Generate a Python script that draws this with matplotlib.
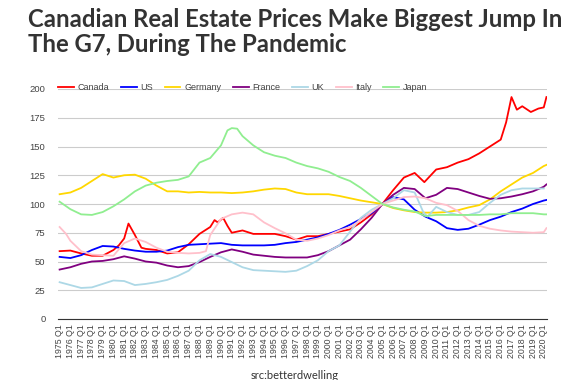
import matplotlib.pyplot as plt

# values (index, 2005 Q1 = 100)
years = list(range(1975, 2021))
tick_labels = [f"{y} Q1" for y in years]

canada_t = [1975, 1976, 1977, 1978, 1979, 1980, 1980.5, 1981, 1981.4, 1982, 1982.6, 1983, 1984, 1985,
            1986, 1987, 1988, 1989, 1989.4, 1989.7, 1990.2, 1990.6, 1991, 1992, 1993, 1994, 1995, 1996,
            1997, 1998, 1999, 2000, 2001, 2002, 2003, 2004, 2005, 2006, 2007, 2008, 2008.9, 2010,
            2011, 2012, 2013, 2014, 2015, 2016, 2016.5, 2017, 2017.5, 2018, 2018.8, 2019.5, 2020, 2020.25]
canada_v = [59, 59.5, 57, 55, 55, 60, 64, 70, 83, 73, 62, 61, 60, 57,
            58, 65, 74, 80, 86, 84, 88, 81, 75, 77, 74, 74, 74, 72,
            69, 72, 72, 74, 76, 78, 84, 91, 100, 112, 123, 127, 119, 130,
            132, 136, 139, 144, 150, 156, 171, 193, 182, 185, 180, 183, 184, 193]

us_t = years + [2020.25]
us_v = [54, 53, 55.5, 60, 63.5, 63, 61, 59.5, 58.5, 58.5, 59.5, 62.5, 64.5, 65, 65.5, 66,
        64.5, 64, 64, 64, 64.5, 66, 67, 69, 71, 74, 77.5, 82, 87, 92, 100, 106, 104, 95,
        89, 85, 79, 77.5, 78.5, 82, 86, 89, 93, 96, 100, 103, 103.5]

germany_t = years + [2020.25]
germany_v = [108.5, 110, 114, 120, 126, 123, 125, 125.5, 122, 116, 111, 111, 110, 110.5, 110, 110,
             109.5, 110, 111, 112.5, 113.5, 113, 110, 108.5, 108.5, 108.5, 107, 105, 103, 101.5, 100,
             96.5, 94.5, 93, 92.5, 92.5, 93, 94.5, 97, 99, 104, 111, 117, 123, 127, 133, 134]

france_t = years + [2020.25]
france_v = [43, 45, 48, 50, 50.5, 52, 54.5, 52.5, 50, 49, 46.5, 45, 46, 49.5, 54, 58,
            60.5, 58.5, 56, 55, 54, 53.5, 53.5, 53.5, 55.5, 59, 64, 69, 78, 88, 100, 108, 114, 113,
            105, 108, 114, 113, 110, 107, 104.5, 105, 106.5, 108.5, 111, 115, 117]

uk_t = list(range(1975, 2009)) + [2008.8, 2009.2] + list(range(2010, 2021))
uk_v = [32, 29.5, 27, 27.5, 30.5, 33.5, 33, 29.5, 30.5, 32, 34, 37.5, 42, 51, 56.5, 54,
        49.5, 45, 42.5, 42, 41.5, 41, 42, 46, 51, 59, 64, 76, 88, 95, 100, 105, 112, 110,
        93, 89, 97.5, 93, 90.5, 90.5, 93, 101, 108, 112, 113.5, 113.5, 113.5]

italy_t = [1975, 1975.6, 1976, 1977, 1978, 1979, 1980, 1981, 1982, 1983, 1984, 1985, 1986, 1987,
           1988, 1988.6, 1989, 1990, 1991, 1992, 1993, 1994, 1995, 1996, 1997, 1998, 1999, 2000,
           2001, 2002, 2003, 2004, 2005, 2006, 2007, 2008, 2009, 2010, 2011, 2012, 2013, 2014,
           2015, 2016, 2017, 2018, 2019, 2020, 2020.25]
italy_v = [80, 74, 68, 59, 56, 55.5, 55, 66, 70, 67, 62, 58.5, 57.5, 57,
           57.5, 59, 73, 87, 91, 92.5, 91, 84, 79, 74.5, 69, 68, 70, 73,
           77, 80, 86, 93, 100, 103, 106, 106.5, 105, 101, 99, 94, 86, 81,
           78.5, 77, 76, 75.5, 75, 75.5, 79]

japan_t = list(range(1975, 1991)) + [1990.6, 1991, 1991.5] + list(range(1992, 2021)) + [2020.25]
japan_v = [102, 95.5, 91, 90.5, 93, 98, 104, 111, 116, 118.5, 120, 121, 124, 136, 140, 151,
           164, 166, 165.5, 159, 151, 145, 142, 140, 136, 133, 131, 128, 123.5, 120, 114, 107, 100,
           97, 95, 93.5, 89.5, 90.5, 90.5, 90.5, 90.5, 90.5, 91, 91, 92, 92, 92, 91, 91]

series = [
    ('Canada', canada_t, canada_v, '#ff0000'),
    ('US', us_t, us_v, '#0000ff'),
    ('Germany', germany_t, germany_v, '#ffd700'),
    ('France', france_t, france_v, '#800080'),
    ('UK', uk_t, uk_v, '#add8e6'),
    ('Italy', italy_t, italy_v, '#ffc0cb'),
    ('Japan', japan_t, japan_v, '#90ee90'),
]

plt.rcParams['font.family'] = ['Liberation Sans', 'DejaVu Sans']

fig = plt.figure(figsize=(5.77, 3.80), dpi=100)
ax = fig.add_axes([58 / 577, 1 - 319 / 380, (547 - 58) / 577, (319 - 89) / 380])

for name, t, v, c in series:
    ax.plot(t, v, color=c, lw=1.3, label=name)

ax.set_xlim(1974.85, 2020.3)
ax.set_ylim(0, 200)
ax.set_yticks(range(0, 201, 25))
ax.set_xticks(years)
ax.set_xticklabels(tick_labels, rotation=90, fontsize=6.3, color='#444444')
ax.tick_params(axis='y', labelsize=6.8, colors='#444444', length=0, pad=9)
ax.tick_params(axis='x', length=0, pad=4)
ax.grid(axis='y', color='#cccccc', lw=0.8)
ax.set_axisbelow(True)
for s in ['top', 'right', 'left']:
    ax.spines[s].set_visible(False)
ax.spines['bottom'].set_color('#333333')

fig.legend(loc='upper left', bbox_to_anchor=(50 / 577, 1 - 75 / 380), ncol=7, frameon=False,
           fontsize=6.5, handlelength=1.75, handletextpad=0.4, columnspacing=1.3,
           labelcolor='#444444')

fig.text(28 / 577, 1 - 8 / 380, 'Canadian Real Estate Prices Make Biggest Jump In\nThe G7, During The Pandemic',
         family='Lato', weight='bold', fontsize=17.2, color='#333333', va='top', ha='left',
         linespacing=1.12)
fig.text(295 / 577, 1 - 370 / 380, 'src:betterdwelling', family='Lato', fontsize=8,
         color='#333333', ha='center', va='top')

fig.savefig('out.png', dpi=100)
